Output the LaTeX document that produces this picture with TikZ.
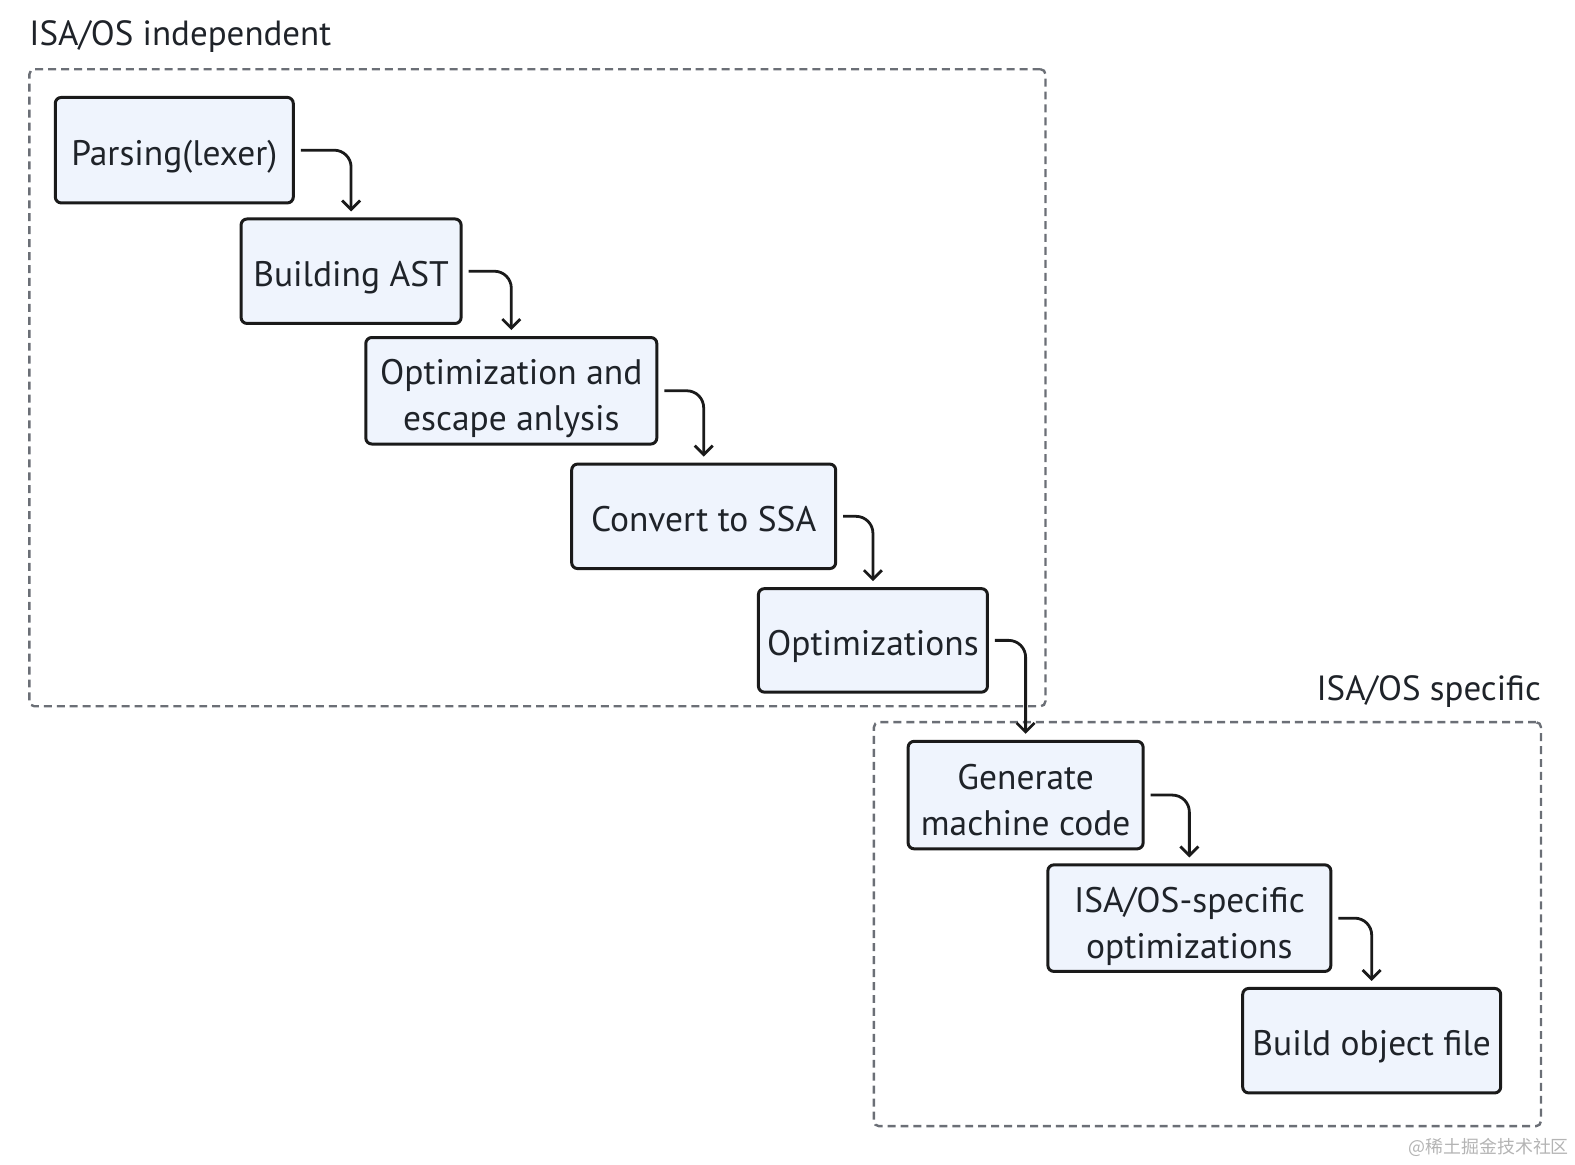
\documentclass[tikz,border=0pt]{standalone}
\usepackage{fontspec}
\setmainfont{PT Sans}
\newfontfamily\cjkfont{Noto Sans CJK SC}
\usetikzlibrary{arrows.meta}
\definecolor{boxfill}{HTML}{EFF4FD}
\definecolor{boxline}{HTML}{1A1A1A}
\definecolor{txt}{HTML}{1F2329}
\definecolor{dash}{HTML}{6B6F76}
\definecolor{wm}{HTML}{B4B4B4}
\begin{document}
\begin{tikzpicture}[x=1.0045bp, y=-1.0045bp,
  stepbox/.style={draw=boxline, fill=boxfill, line width=3pt, rounded corners=6pt, inner sep=0pt},
  steptext/.style={inner sep=0pt, align=center, text=txt, anchor=base, font=\fontsize{35.6}{46.2}\selectfont},
  groupbox/.style={draw=dash, line width=2.4pt, dash pattern=on 8pt off 5pt, rounded corners=5pt, inner sep=0pt},
  glabel/.style={text=txt, inner sep=0pt, font=\fontsize{35.1}{40}\selectfont},
  conn/.style={draw=boxline, line width=2.8pt, rounded corners=17pt,
    -{Straight Barb[length=9pt,width=18pt,line width=2.8pt]}}
]
\useasboundingbox (0,0) rectangle (1567.9,1158.8);
\node[groupbox, minimum width=1016bp, minimum height=637bp] (g1) at (535,386) {};
\node[groupbox, minimum width=667bp, minimum height=404bp] (g2) at (1202,920) {};
\node[glabel, anchor=base west] (l1) at (29,45) {ISA/OS independent};
\node[glabel, anchor=base east] (l2) at (1534,697) {ISA/OS specific};

\node[stepbox, minimum width=238bp, minimum height=105.5bp] (a) at (173.5,149.5) {};
\node[stepbox, minimum width=220bp, minimum height=104.5bp] (b) at (349.5,270) {};
\node[stepbox, minimum width=291bp, minimum height=106.5bp] (c) at (509,389) {};
\node[stepbox, minimum width=264bp, minimum height=104.5bp] (d) at (700.5,514) {};
\node[stepbox, minimum width=229bp, minimum height=103.5bp] (e) at (869,637.5) {};
\node[stepbox, minimum width=235bp, minimum height=107.5bp] (f) at (1021,791.5) {};
\node[stepbox, minimum width=283bp, minimum height=106.5bp] (g) at (1184,914) {};
\node[stepbox, minimum width=258bp, minimum height=104.5bp] (h) at (1365.5,1036) {};

\node[steptext] (ta) at (173.5,164.5) {Parsing(lexer)};
\node[steptext] (tb) at (349.5,285) {Building AST};
\node[steptext] (tc) at (509,428.5) {Optimization and\\escape anlysis};
\node[steptext] (td) at (700.5,529) {Convert to SSA};
\node[steptext] (te) at (869,652.5) {Optimizations};
\node[steptext] (tf) at (1021,831.5) {Generate\\machine code};
\node[steptext] (tg) at (1184,954) {ISA/OS-specific\\optimizations};
\node[steptext] (th) at (1365.5,1051) {Build object file};

\foreach \s/\t in {a/b,b/c,c/d,d/e,e/f,f/g,g/h}
  \draw[conn] ([xshift=6bp]\s.east) -| ([yshift=6bp]\t.north);

\node[inner sep=0pt, text=wm, anchor=base east, font=\cjkfont\fontsize{18}{20}\selectfont] (wmk) at (1562,1148) {@稀土掘金技术社区};
\end{tikzpicture}
\end{document}
